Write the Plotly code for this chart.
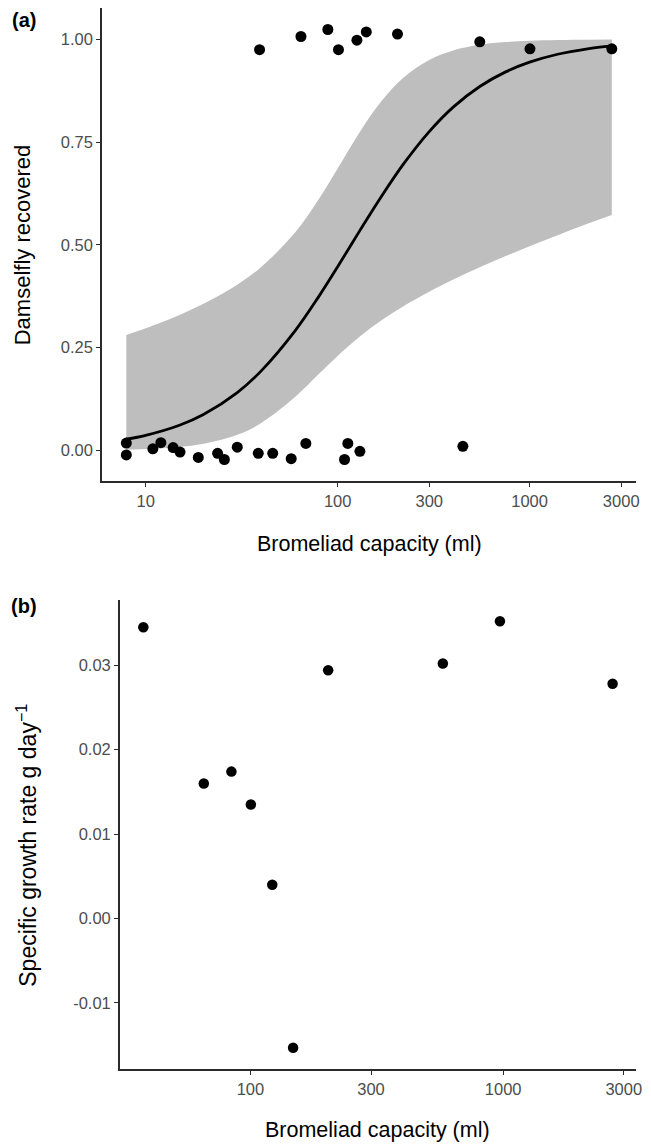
import numpy as np
import plotly.graph_objects as go

# ---------------- Panel (a): damselfly recovered vs bromeliad capacity ----------------
cap_recovered = [39.2, 64.4, 88.9, 101, 126, 141, 205, 550, 1004, 2680]
rec_recovered = [0.975, 1.007, 1.024, 0.975, 0.998, 1.018, 1.013, 0.994, 0.977, 0.977]

cap_lost = [7.93, 7.93, 10.9, 12.0, 13.9, 15.1, 18.8, 23.7, 25.7, 30.0,
            38.6, 45.9, 57.3, 68.3, 108.6, 113, 130.6, 449]
rec_lost = [0.018, -0.011, 0.004, 0.019, 0.007, -0.004, -0.017, -0.007, -0.022, 0.008,
            -0.007, -0.007, -0.020, 0.017, -0.022, 0.017, -0.002, 0.010]

# fitted logistic curve and its confidence band
fit_cap = [7.93, 10, 15, 20, 30, 40, 60, 80, 100, 130, 170, 220, 300, 400,
           550, 750, 1000, 1400, 2000, 2680]
fit_mean = [0.0273, 0.0368, 0.0614, 0.0875, 0.1408, 0.1936, 0.2909, 0.3754, 0.4468, 0.5335,
            0.6196, 0.6964, 0.7757, 0.8352, 0.8853, 0.9209, 0.9446, 0.9638, 0.9771, 0.9844]
fit_upper = [0.2807, 0.2973, 0.3298, 0.3569, 0.4032, 0.4464, 0.5301, 0.6121, 0.6859, 0.7737,
             0.8511, 0.9068, 0.9500, 0.9730, 0.9867, 0.9934, 0.9966, 0.9985, 0.9993, 0.9997]
fit_lower = [0.0020, 0.0034, 0.0086, 0.0163, 0.0382, 0.0667, 0.1298, 0.1863, 0.2300, 0.2767,
             0.3171, 0.3509, 0.3863, 0.4158, 0.4455, 0.4728, 0.4970, 0.5237, 0.5513, 0.5727]

a_yticks = [0.0, 0.25, 0.5, 0.75, 1.0]
a_yticktext = ["0.00", "0.25", "0.50", "0.75", "1.00"]
a_xticks = [10, 100, 300, 1000, 3000]
a_xticktext = ["10", "100", "300", "1000", "3000"]

# ---------------- Panel (b): specific growth rate ----------------
growth_cap = [37.7, 65.4, 84.1, 100.4, 122, 147.5, 203, 577, 971, 2710]
growth_rate = [0.0345, 0.0160, 0.0174, 0.0135, 0.0040, -0.0153, 0.0294, 0.0302, 0.0352, 0.0278]

b_yticks = [-0.01, 0.0, 0.01, 0.02, 0.03]
b_yticktext = ["-0.01", "0.00", "0.01", "0.02", "0.03"]
b_xticks = [100, 300, 1000, 3000]
b_xticktext = ["100", "300", "1000", "3000"]

# ---------------- layout helpers ----------------
W, H = 651, 1145
FONT = "Liberation Sans, Arial, Helvetica, sans-serif"
AXCOL = "#2b2b2b"
TICKCOL = "#4d4d4d"


def px(x):
    return x / W


def py(y):
    return 1 - y / H


def expand(lo, hi, f=0.05):
    d = hi - lo
    return [lo - f * d, hi + f * d]


a_xall = np.log10(np.array(cap_recovered + cap_lost + fit_cap, dtype=float))
a_yall = np.array(rec_recovered + rec_lost + fit_upper + fit_lower, dtype=float)
a_xrange = expand(a_xall.min(), a_xall.max())
a_yrange = expand(a_yall.min(), a_yall.max())

b_xall = np.log10(np.array(growth_cap, dtype=float))
b_yall = np.array(growth_rate, dtype=float)
b_xrange = expand(b_xall.min(), b_xall.max())
b_yrange = expand(b_yall.min(), b_yall.max())

A = dict(l=103, r=642, t=8, b=481)
B = dict(l=121, r=642, t=600, b=1069)

fig = go.Figure()

# ribbon
fig.add_trace(go.Scatter(x=fit_cap, y=fit_lower, mode="lines", line=dict(width=0, shape="spline"),
                         hoverinfo="skip", showlegend=False, xaxis="x", yaxis="y"))
fig.add_trace(go.Scatter(x=fit_cap, y=fit_upper, mode="lines", line=dict(width=0, shape="spline"),
                         fill="tonexty", fillcolor="#bebebe", hoverinfo="skip",
                         showlegend=False, xaxis="x", yaxis="y"))
# fitted curve
fig.add_trace(go.Scatter(x=fit_cap, y=fit_mean, mode="lines",
                         line=dict(color="black", width=2.8, shape="spline"),
                         showlegend=False, xaxis="x", yaxis="y"))
# points
fig.add_trace(go.Scatter(x=cap_lost + cap_recovered, y=rec_lost + rec_recovered, mode="markers",
                         marker=dict(color="black", size=11, line=dict(width=0)),
                         showlegend=False, xaxis="x", yaxis="y"))

fig.add_trace(go.Scatter(x=growth_cap, y=growth_rate, mode="markers",
                         marker=dict(color="black", size=10.5, line=dict(width=0)),
                         showlegend=False, xaxis="x2", yaxis="y2"))

axis_common = dict(showline=True, linecolor=AXCOL, linewidth=1.6, showgrid=False, zeroline=False,
                   ticks="outside", ticklen=4, tickwidth=1.4, tickcolor=AXCOL,
                   tickfont=dict(family=FONT, size=16.5, color=TICKCOL), mirror=False)

fig.update_layout(
    width=W, height=H, autosize=False,
    margin=dict(l=0, r=0, t=0, b=0),
    paper_bgcolor="white", plot_bgcolor="white",
    font=dict(family=FONT, color="black"),
    xaxis=dict(type="log", range=a_xrange, domain=[px(A["l"]), px(A["r"])], anchor="y",
               tickmode="array", tickvals=a_xticks, ticktext=a_xticktext, **axis_common),
    yaxis=dict(range=a_yrange, domain=[py(A["b"]), py(A["t"])], anchor="x",
               tickmode="array", tickvals=a_yticks, ticktext=a_yticktext, **axis_common),
    xaxis2=dict(type="log", range=b_xrange, domain=[px(B["l"]), px(B["r"])], anchor="y2",
                tickmode="array", tickvals=b_xticks, ticktext=b_xticktext, **axis_common),
    yaxis2=dict(range=b_yrange, domain=[py(B["b"]), py(B["t"])], anchor="x2",
                tickmode="array", tickvals=b_yticks, ticktext=b_yticktext, **axis_common),
)

TITLE = dict(family=FONT, size=21.5, color="black")
ann = [
    dict(text="<b>(a)</b>", x=px(24), y=py(20), font=dict(family=FONT, size=20, color="black")),
    dict(text="<b>(b)</b>", x=px(24), y=py(606), font=dict(family=FONT, size=20, color="black")),
    dict(text="Damselfly recovered", x=px(23), y=py((A["t"] + A["b"]) / 2), textangle=-90,
         font=dict(family=FONT, size=22, color="black")),
    dict(text="Bromeliad capacity (ml)", x=px((A["l"] + A["r"]) / 2), y=py(544), font=TITLE),
    dict(text="Specific growth rate g day<sup>\u22121</sup>", x=px(27), y=py(845),
         textangle=-90, font=dict(family=FONT, size=23, color="black")),
    dict(text="Bromeliad capacity (ml)", x=px((B["l"] + B["r"]) / 2), y=py(1130), font=TITLE),
]
for a in ann:
    fig.add_annotation(xref="paper", yref="paper", showarrow=False, xanchor="center", yanchor="middle", **a)

fig.write_html("out.html", config={"displayModeBar": False},
               post_script="document.body.style.margin='0';document.body.style.overflow='hidden';")
